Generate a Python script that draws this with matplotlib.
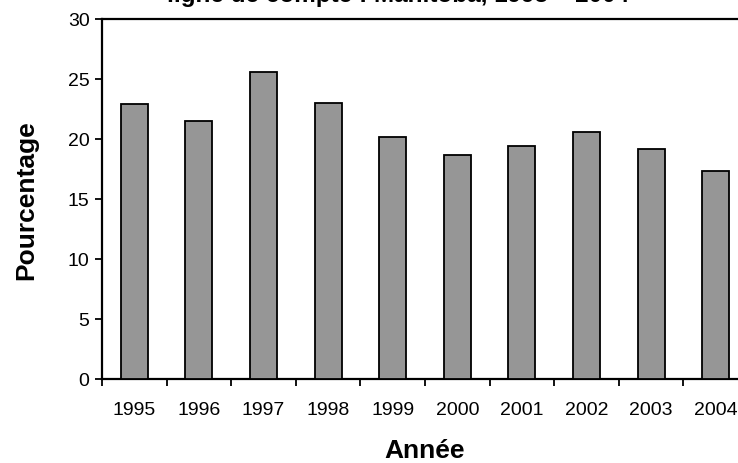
import matplotlib.pyplot as plt
import numpy as np

plt.rcParams['font.family'] = ['Liberation Sans', 'DejaVu Sans']

# Share by year, Manitoba
years = ['1995', '1996', '1997', '1998', '1999', '2000', '2001', '2002', '2003', '2004']
pct = [22.9, 21.5, 25.6, 23.0, 20.2, 18.7, 19.4, 20.6, 19.2, 17.3]

W, H = 738, 464
fig = plt.figure(figsize=(W / 100, H / 100), dpi=100)
ax = fig.add_axes([102 / W, (H - 380) / H, 646 / W, 360 / H])

x = np.arange(len(years))
ax.bar(x, pct, width=0.42, color='#969696', edgecolor='black', linewidth=1.3, zorder=3)

ax.set_xlim(-0.5, len(years) - 0.5)
ax.set_ylim(0, 30)
ax.set_yticks(range(0, 31, 5))

# category labels centred, tick marks between categories
ax.set_xticks(x)
ax.set_xticklabels(years, fontsize=14)
ax.tick_params(axis='x', which='major', length=0, pad=16)
ax.set_xticks(np.arange(-0.5, len(years)), minor=True)
ax.tick_params(axis='x', which='minor', length=5, width=1.3, direction='out')
ax.tick_params(axis='y', length=5, width=1.3, direction='out', labelsize=14, pad=4)

for side in ['left', 'bottom', 'top']:
    ax.spines[side].set_linewidth(1.6)
ax.spines['right'].set_visible(False)

ax.set_ylabel('Pourcentage', fontsize=19, fontweight='bold', labelpad=21)
ax.set_xlabel('Année', fontsize=19, fontweight='bold', labelpad=14)

fig.text(398 / W, 1 - 2 / H, 'ligne de compte : Manitoba, 1995 – 2004',
         ha='center', va='baseline', fontsize=17.5, fontweight='bold')

fig.savefig('out.png', dpi=100)
